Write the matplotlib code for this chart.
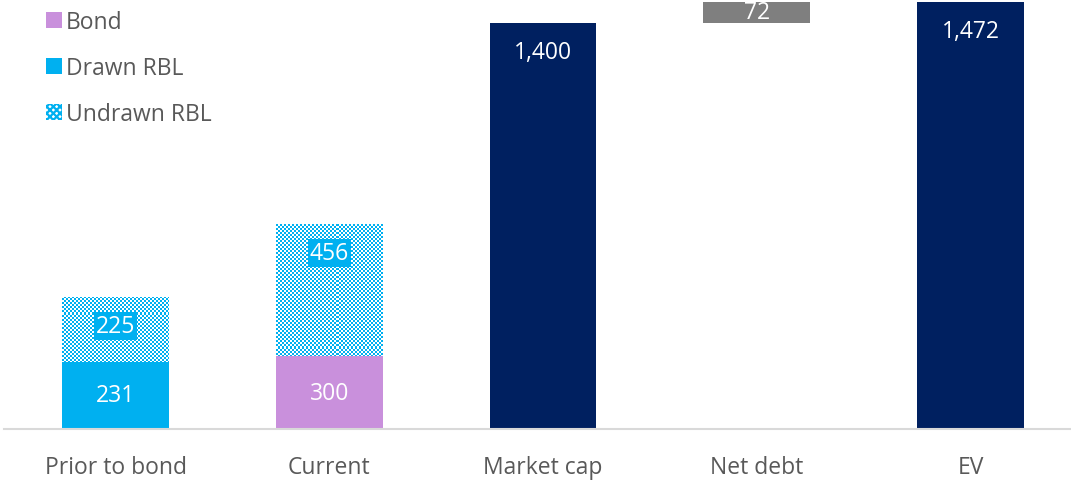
import matplotlib
matplotlib.use("Agg")
import numpy as np
import matplotlib.pyplot as plt
from matplotlib.patches import Patch
from matplotlib.colors import ListedColormap

plt.rcParams['font.family'] = ['Open Sans', 'DejaVu Sans']
plt.rcParams['hatch.linewidth'] = 1.6

categories = ["Prior to bond", "Current", "Market cap", "Net debt", "EV"]
drawn_rbl = [231, 0]
bond = [0, 250]
undrawn_rbl = [225, 456]
drawn_labels = ["231", ""]
bond_labels = ["", "300"]
undrawn_labels = ["225", "456"]
market_cap = 1400
net_debt = 72
ev = 1472
market_cap_label = "1,400"
net_debt_label = "72"
ev_label = "1,472"

CYAN = "#00B0F0"
LILAC = "#C990DC"
NAVY = "#002060"
GREY = "#7F7F7F"
TXT = "#595959"

W, H = 1071, 481
AX_W, AX_H = 1067, 430
fig = plt.figure(figsize=(W / 100, H / 100), dpi=100)
ax = fig.add_axes([4 / W, (H - AX_H) / H, AX_W / W, AX_H / H])
XL = (-0.522, 4.470)
YL = (0, 1482)
ax.set_xlim(*XL)
ax.set_ylim(*YL)

x = list(range(len(categories)))
bw = 0.5

ax.bar(x[:2], drawn_rbl, bw, color=CYAN, linewidth=0)
ax.bar(x[:2], bond, bw, bottom=drawn_rbl, color=LILAC, linewidth=0)
base2 = [d + b for d, b in zip(drawn_rbl, bond)]
und = ax.bar(x[:2], undrawn_rbl, bw, bottom=base2, color="white", linewidth=0)

# checkerboard fill for the undrawn bars
cell = 2
ny, nx = AX_H // cell, AX_W // cell
yy, xx = np.mgrid[0:ny, 0:nx]
checker = ((yy + xx) % 2).astype(float)
cmap = ListedColormap(["white", CYAN])
for rect in und:
    im = ax.imshow(checker, extent=(XL[0], XL[1], YL[0], YL[1]), aspect="auto",
                   cmap=cmap, interpolation="nearest", origin="lower", zorder=1.5)
    im.set_clip_path(rect)

ax.bar(x[2], market_cap, bw, color=NAVY, linewidth=0)
ax.bar(x[3], net_debt, bw, bottom=market_cap, color=GREY, linewidth=0)
ax.bar(x[4], ev, bw, color=NAVY, linewidth=0)
ax.set_xlim(*XL)
ax.set_ylim(*YL)

fs = 16.5
for i in range(2):
    if drawn_labels[i]:
        ax.text(x[i], drawn_rbl[i] / 2, drawn_labels[i], ha="center", va="center",
                color="white", fontsize=fs, zorder=3)
    if bond_labels[i]:
        ax.text(x[i], drawn_rbl[i] + bond[i] / 2, bond_labels[i], ha="center",
                va="center", color="white", fontsize=fs, zorder=3)
    top = base2[i] + undrawn_rbl[i]
    ax.annotate(undrawn_labels[i], (x[i], top), xytext=(0, -21), textcoords="offset points",
                ha="center", va="center", color="white", fontsize=fs, zorder=3,
                bbox=dict(boxstyle="square,pad=0.08", fc=CYAN, ec="none"))

ax.annotate(market_cap_label, (x[2], market_cap), xytext=(0, -21), textcoords="offset points",
            ha="center", va="center", color="white", fontsize=fs)
ax.annotate(ev_label, (x[4], ev), xytext=(0, -21), textcoords="offset points",
            ha="center", va="center", color="white", fontsize=fs)
ax.text(x[3], market_cap + net_debt / 2, net_debt_label, ha="center", va="center",
        color="white", fontsize=fs)

for s in ["top", "right", "left"]:
    ax.spines[s].set_visible(False)
ax.spines["bottom"].set_color("#D9D9D9")
ax.spines["bottom"].set_linewidth(1.5)
ax.set_yticks([])
ax.set_xticks(x)
ax.set_xticklabels(categories, fontsize=fs, color=TXT)
ax.tick_params(axis="x", length=0, pad=19)

handles = [Patch(facecolor=LILAC, edgecolor="none", label="Bond"),
           Patch(facecolor=CYAN, edgecolor="none", label="Drawn RBL"),
           Patch(facecolor="white", edgecolor=CYAN, hatch="xxxxx", linewidth=0, label="Undrawn RBL")]
fig.legend(handles=handles, loc="upper left", bbox_to_anchor=(25 / W, 1 + 10 / H),
           frameon=False, fontsize=fs, handlelength=0.7, handleheight=0.7,
           handletextpad=0.2, labelspacing=0.97, labelcolor=TXT)

fig.savefig("out.png", dpi=100)
